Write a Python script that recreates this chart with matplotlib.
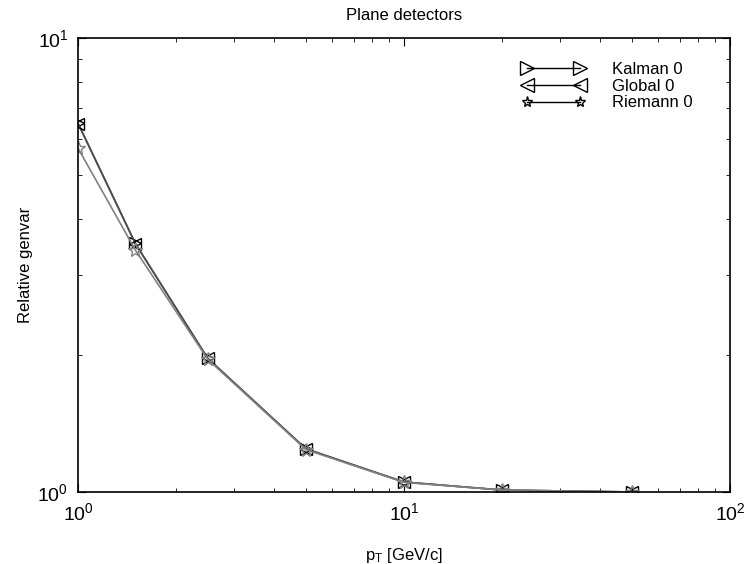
import matplotlib
matplotlib.use('Agg')
import matplotlib.pyplot as plt
from matplotlib.lines import Line2D
from matplotlib.ticker import NullFormatter

plt.rcParams['font.family'] = ['Liberation Sans', 'DejaVu Sans']
plt.rcParams['mathtext.fontset'] = 'custom'
plt.rcParams['mathtext.rm'] = 'Liberation Sans'
plt.rcParams['mathtext.it'] = 'Liberation Sans'

pt = [1, 1.5, 2.5, 5, 10, 20, 50]
kalman = [6.5, 3.53, 1.97, 1.245, 1.052, 1.01, 1.0]
glob = [6.48, 3.52, 1.97, 1.245, 1.052, 1.01, 1.0]
riemann = [5.72, 3.41, 1.96, 1.24, 1.05, 1.01, 1.0]
labels = ['Kalman 0', 'Global 0', 'Riemann 0']

fig = plt.figure(figsize=(7.45, 5.64), dpi=100)
ax = fig.add_axes([78 / 745, 1 - 492 / 564, (730 - 78) / 745, (492 - 38) / 564])

ax.plot(pt, kalman, color='0.35', marker='>', mfc='none', mec='k', ms=9, lw=1.2)
ax.plot(pt, glob, color='0.3', marker='<', mfc='none', mec='k', ms=9, lw=1.2)
ax.plot(pt, riemann, color='0.5', marker='*', mfc='none', mec='0.5', ms=10, lw=1.2)

ax.set_xscale('log')
ax.set_yscale('log')
ax.set_xlim(1, 100)
ax.set_ylim(1, 10)
ax.yaxis.set_minor_formatter(NullFormatter())
ax.xaxis.set_minor_formatter(NullFormatter())
ax.tick_params(which='both', direction='in', top=True, right=True, labelsize=14)
ax.tick_params(which='major', length=6, pad=7)
ax.tick_params(which='minor', length=3)
for s in ax.spines.values():
    s.set_linewidth(1.2)

ax.set_title('Plane detectors', fontsize=12, pad=13)
ax.set_xlabel(r'p$_{\mathrm{T}}$ [GeV/c]', fontsize=12, labelpad=16)
ax.set_ylabel('Relative genvar', fontsize=12, labelpad=3)

handles = [
    Line2D([0], [0], color='k', marker='>', mfc='none', mec='k', ms=10, lw=1),
    Line2D([0], [0], color='k', marker='<', mfc='none', mec='k', ms=10, lw=1),
    Line2D([0], [0], color='k', marker='*', mfc='none', mec='k', ms=8, lw=1),
]
ax.legend(handles, labels, numpoints=2, frameon=False, loc='upper right',
          bbox_to_anchor=(0.965, 0.98), fontsize=12, handlelength=3.8,
          labelspacing=0.1, handletextpad=1.6)

plt.savefig('out.png', dpi=100)
